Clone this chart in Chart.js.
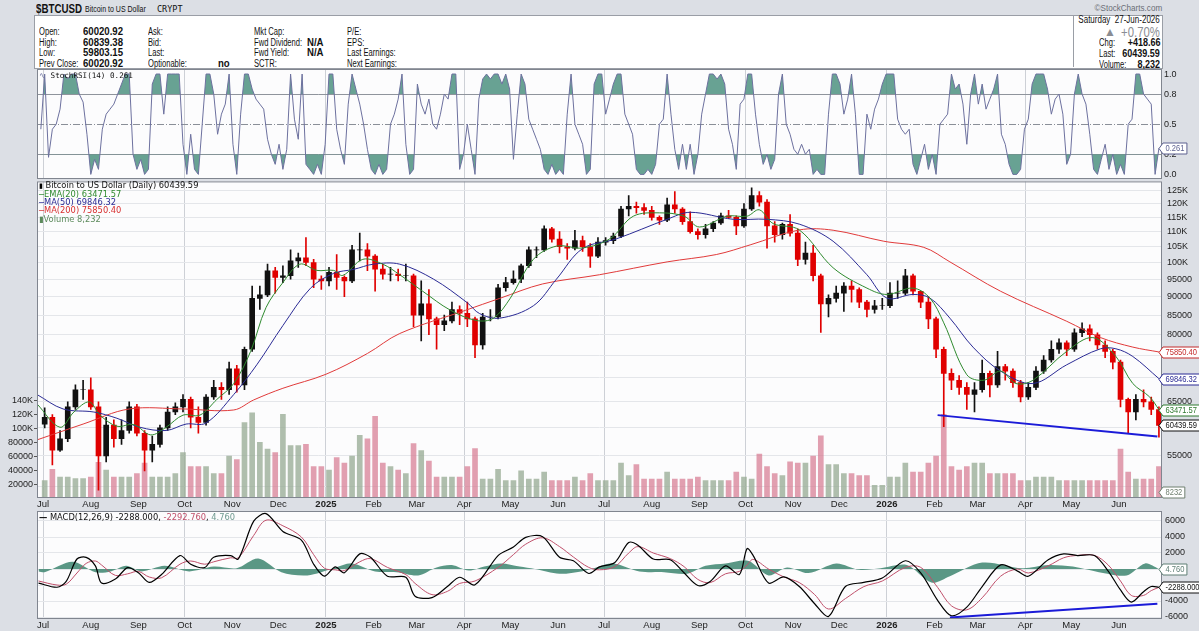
<!DOCTYPE html>
<html>
<head>
<meta charset="utf-8">
<script src="https://cdn.jsdelivr.net/npm/chart.js@4.4.1/dist/chart.umd.min.js"></script>
<style>
  body { margin:0; width:1199px; height:631px; background:#dcdfe5; position:relative; overflow:hidden;
         font-family:"Liberation Sans",Arial,sans-serif; color:#111; }
  canvas { position:absolute; left:0; }
  .t { position:absolute; white-space:nowrap; font-size:10px; line-height:11px; transform:scaleX(.76); transform-origin:0 50%; }
  .v { position:absolute; white-space:nowrap; font-size:10px; line-height:11px; font-weight:bold; transform:scaleX(.96); transform-origin:0 50%; }
  .r { transform-origin:100% 50%; }
  .lg { position:absolute; white-space:nowrap; font-family:"DejaVu Sans",sans-serif; font-size:8.3px; line-height:9px; z-index:2; }
  #info { position:absolute; left:34px; top:15px; width:1127px; height:52px; background:#fff; border:1px solid #9a9ea6; }
  #rbox { position:absolute; left:1073px; top:15px; width:88px; height:52px; border-left:1px solid #9a9ea6; }
</style>
</head>
<body>
<div id="info"></div>
<div id="rbox"></div>
<div class="t" style="left:36px;top:3px;font-size:12.5px;line-height:13px;font-weight:bold;transform:scaleX(.78)">$BTCUSD</div>
<div class="t" style="left:85px;top:4px;font-size:9px;transform:scaleX(.78)">Bitcoin to US Dollar</div>
<div class="t" style="left:157px;top:4px;font-family:'DejaVu Sans Mono',monospace;font-size:8.5px;transform:none">CRYPT</div>
<div class="t r" style="right:37px;top:3px;font-size:9px;color:#6a6e76;transform:scaleX(.9)">&#169;StockCharts.com</div>

<div class="t" style="left:39px;top:26px">Open:</div><div class="v" style="left:83px;top:26px">60020.92</div>
<div class="t" style="left:39px;top:36.5px">High:</div><div class="v" style="left:83px;top:36.5px">60839.38</div>
<div class="t" style="left:39px;top:47px">Low:</div><div class="v" style="left:83px;top:47px">59803.15</div>
<div class="t" style="left:39px;top:58px">Prev Close:</div><div class="v" style="left:83px;top:58px">60020.92</div>
<div class="t" style="left:148px;top:26px">Ask:</div>
<div class="t" style="left:148px;top:36.5px">Bid:</div>
<div class="t" style="left:148px;top:47px">Last:</div>
<div class="t" style="left:148px;top:58px">Optionable:</div><div class="v" style="left:218px;top:58px">no</div>
<div class="t" style="left:254px;top:26px">Mkt Cap:</div>
<div class="t" style="left:254px;top:36.5px">Fwd Dividend:</div><div class="v" style="left:307px;top:36.5px">N/A</div>
<div class="t" style="left:254px;top:47px">Fwd Yield:</div><div class="v" style="left:307px;top:47px">N/A</div>
<div class="t" style="left:254px;top:58px">SCTR:</div>
<div class="t" style="left:347px;top:26px">P/E:</div>
<div class="t" style="left:347px;top:36.5px">EPS:</div>
<div class="t" style="left:347px;top:47px">Last Earnings:</div>
<div class="t" style="left:347px;top:58px">Next Earnings:</div>

<div class="t r" style="right:39px;top:14px;transform:scaleX(.8)">Saturday&nbsp; 27-Jun-2026</div>
<div class="t" style="left:1104px;top:26px;font-size:12px;line-height:13px;color:#8a8d93;transform:none">&#9650;</div>
<div class="t r" style="right:39px;top:25px;font-size:14px;line-height:14px;color:#8a8d93;transform:scaleX(.81)">+0.70%</div>
<div class="t" style="left:1099px;top:37px">Chg:</div><div class="v r" style="right:39px;top:37px;transform:scaleX(.9)">+418.66</div>
<div class="t" style="left:1099px;top:48px">Last:</div><div class="v r" style="right:39px;top:48px;transform:scaleX(.9)">60439.59</div>
<div class="t" style="left:1099px;top:59px">Volume:</div><div class="v r" style="right:39px;top:59px;transform:scaleX(.9)">8,232</div>

<canvas id="stoch" width="1199" height="128" style="top:60px"></canvas>
<canvas id="main" width="1199" height="341" style="top:171px"></canvas>
<canvas id="macd" width="1199" height="129" style="top:502px"></canvas>

<div class="lg" style="left:39px;top:70.5px;font-family:'DejaVu Sans Mono',monospace;font-size:7.6px"><span style="color:#6d719f">&#8767;</span> StochRSI(14) 0.261</div>
<div class="lg" style="left:39px;top:181px"><span style="color:#000;font-size:7px">&#9646;</span> Bitcoin to US Dollar (Daily) 60439.59</div>
<div class="lg" style="left:39px;top:189.5px;color:#2f8a2f">&#9472;EMA(20) 63471.57</div>
<div class="lg" style="left:39px;top:198px;color:#2b2b95">&#9472;MA(50) 69846.32</div>
<div class="lg" style="left:39px;top:206px;color:#d83030">&#9472;MA(200) 75850.40</div>
<div class="lg" style="left:39px;top:214.5px;color:#5c8a5c">&#9646;Volume 8,232</div>
<div class="lg" style="left:39px;top:513px"><b>&#8212;</b> MACD(12,26,9) -2288.000, <span style="color:#c0506b">-2292.760</span>, <span style="color:#6f9a90">4.760</span></div>

<script>
const FONT = '"Liberation Sans",Arial,sans-serif';

// x axis: days counted from 1 Jan 2025, one candle every 5 days ending 27 Jun 2026
const startDay = -183;
const stepDays = 5;
const monthDays = [-184,-153,-122,-92,-61,-31,0,31,59,90,120,151,181,212,243,273,304,334,365,396,424,455,485,516];
const monthLabels = ['Jul','Aug','Sep','Oct','Nov','Dec','2025','Feb','Mar','Apr','May','Jun','Jul','Aug','Sep','Oct','Nov','Dec','2026','Feb','Mar','Apr','May','Jun'];
const quarterLabels = ['Jul','Oct','2025','Apr','2026'];

const firstOpen = 60700;
const closes = [
  62000,56000,58000,64000,67500,67500,64000,55000,60500,58000,
  59500,64000,59000,56000,57000,60000,63000,64000,65500,62000,
  61000,66000,68000,67500,72000,68500,76500,89500,90500,97500,
  95500,96000,100500,101500,100000,95000,94500,97000,95500,94500,
  104000,104000,102000,98000,96500,96500,96000,96000,85000,88000,
  84000,82500,83500,86500,85500,84000,77500,84500,84500,92500,
  94000,95000,99000,104000,104000,111000,107500,105000,104500,107000,
  105000,102000,106500,107000,108500,118000,119000,118500,117500,115000,
  114000,119500,118000,113500,110000,109000,111000,113000,115500,115000,
  112000,118000,123000,120500,112000,109000,112500,109500,101000,103000,
  96000,88000,89500,91000,93000,92000,88500,86500,87500,87500,
  91000,91000,96000,91500,88500,84000,76500,71000,69500,68000,
  66500,67500,71000,68500,72500,71500,69000,66000,68000,71500,
  74000,76500,78000,76500,80500,81500,80000,77500,76000,73500,
  65500,63000,65500,65000,63500,60439.59
];
const highs = [
  63800,62500,59500,65000,68500,69500,70000,65000,62000,61500,
  61500,65000,64500,59500,58500,60500,64000,64800,66500,66000,
  64000,66500,69500,69000,73500,72800,77000,93000,93000,99500,
  98500,99000,104000,103000,108000,101000,96000,98500,102500,96000,
  105500,109500,106000,102500,99500,98500,98000,99500,96500,94500,
  92000,84500,85000,88500,87500,88500,84500,85500,86500,93500,
  95500,97500,99500,105000,105000,112000,111500,110000,106000,110500,
  108500,106000,108000,108000,109500,119000,123000,120500,120000,119000,
  115500,122000,124500,118500,117000,111000,112500,113500,116500,117500,
  115500,120000,126000,124500,121500,113500,113000,116000,111000,106500,
  105500,96500,90500,93000,94000,94500,92500,89000,89000,89500,
  94000,94500,97900,96500,91500,90000,84500,77000,72000,70500,
  69000,69000,74000,71500,76000,73000,72000,69500,69000,72500,
  75000,78500,79000,78500,81500,83000,82500,80500,78500,76500,
  74000,65800,66500,67500,66000,64000
];
const lows = [
  60000,53500,55800,57500,63500,65500,63500,49500,54000,56500,
  57000,59000,58500,52500,54000,56500,59500,62500,63000,60000,
  59000,60500,65500,65500,66500,67000,67500,76000,86500,90000,
  91000,94000,95000,98500,99000,92500,92000,93000,92000,90000,
  94000,100500,97500,91500,95000,94500,94500,94500,82000,78500,
  80000,76500,81000,83000,82500,82000,74500,76500,83500,84000,
  91500,93500,94000,98500,101500,103500,106500,103000,101000,104000,
  103500,98500,101500,105500,106000,108000,115500,116500,116000,114000,
  112500,113500,116500,112500,109500,107500,107800,110000,112500,114500,
  109000,111500,117500,119000,104500,106500,107500,108500,99000,99500,
  94500,80600,84500,88500,86000,88500,87000,84500,85500,86500,
  87000,89500,90500,90500,87000,81500,74500,60200,67500,66500,
  63500,63000,67000,66000,68000,69500,68000,65000,65500,67500,
  71000,73500,75500,75000,76000,79500,78500,76500,74500,72000,
  64000,59000,61500,64000,62500,58300
];
const volumes = [
  25000,41000,30000,30000,28000,28000,30000,51000,40000,30000,
  30000,30000,35000,50000,30000,30000,30000,35000,65000,45000,
  45000,45000,35000,35000,60000,55000,108000,122000,80000,70000,
  65000,120000,75000,75000,77000,45000,45000,40000,58000,50000,
  60000,90000,85000,117000,50000,45000,40000,35000,78000,68000,
  53000,30000,30000,30000,30000,45000,71000,27000,27000,41000,
  25000,25000,39000,27000,27000,37000,25000,25000,25000,30000,
  25000,35000,25000,25000,25000,50000,32000,48000,27000,27000,
  27000,37000,27000,27000,27000,30000,25000,25000,25000,25000,
  37000,30000,27000,63000,45000,35000,32000,52000,50000,50000,
  60000,89000,48000,48000,35000,35000,32000,32000,18000,18000,
  30000,30000,50000,37000,37000,50000,60000,120000,45000,40000,
  45000,50000,50000,35000,35000,35000,35000,25000,25000,30000,
  30000,30000,25000,25000,25000,25000,25000,25000,25000,25000,
  70000,37000,27000,27000,27000,45000
];

// StochRSI read every 2.5 days
const stochStart = -185.5;
const stochStep = 2.5;
const stochRsi = [
  0.45,1.0,0.17,0.45,0.5,0.65,1.0,0.95,1.0,1.0,
  0.8,0.72,0.4,0.0,0.15,0.05,0.45,0.6,0.65,0.7,
  0.8,0.9,1.0,1.0,0.2,0.05,0.15,0.0,0.05,0.9,
  1.0,1.0,0.6,1.0,1.0,1.0,1.0,0.3,0.0,0.4,
  0.05,0.0,0.5,1.0,1.0,0.8,0.4,0.6,0.7,1.0,
  0.3,0.0,0.6,1.0,1.0,0.85,0.75,0.7,0.65,0.35,
  0.2,0.1,0.3,0.05,0.25,1.0,0.55,0.35,1.0,0.1,
  0.05,0.0,0.1,0.0,0.3,1.0,1.0,0.45,0.25,0.1,
  0.7,1.0,0.85,0.7,0.5,0.25,0.05,0.0,0.1,0.0,
  0.05,0.5,0.6,0.75,1.0,0.3,0.0,0.05,0.9,0.7,
  0.6,0.75,0.5,0.45,0.6,0.8,0.75,1.0,1.0,0.05,
  0.2,0.5,0.25,0.0,0.75,0.95,1.0,0.95,1.0,1.0,
  0.9,1.0,0.85,0.15,0.6,1.0,0.9,0.55,0.45,0.35,
  0.25,0.05,0.0,0.1,0.0,0.05,0.0,0.6,1.0,0.5,
  0.4,0.3,0.0,0.05,0.9,1.0,1.0,0.6,0.75,0.9,
  1.0,1.0,0.6,0.5,0.4,0.05,0.0,0.0,0.05,0.0,
  0.1,0.5,0.55,1.0,0.6,0.25,0.05,0.3,0.05,0.3,
  0.0,0.2,0.6,0.8,1.0,1.0,0.95,1.0,0.9,0.45,
  0.3,0.05,0.7,0.75,1.0,1.0,0.6,0.3,0.1,0.2,
  0.05,0.15,0.8,1.0,0.5,0.4,0.25,0.2,0.3,0.2,
  0.25,0.0,0.05,0.0,0.0,0.6,1.0,1.0,0.9,0.6,
  0.75,1.0,0.6,0.0,0.0,0.6,0.45,0.65,0.75,0.9,
  1.0,1.0,1.0,0.55,0.45,0.4,0.45,0.1,0.0,0.15,
  0.3,0.05,0.2,0.0,0.5,0.55,0.6,1.0,0.85,0.9,
  0.7,0.3,0.8,1.0,0.7,0.9,0.65,0.75,0.85,1.0,
  0.4,0.3,0.1,0.0,0.0,0.05,0.45,0.55,0.9,1.0,
  1.0,1.0,0.85,0.6,0.75,0.8,0.6,0.1,0.2,0.8,
  1.0,0.8,0.7,0.4,0.05,0.0,0.15,0.3,0.05,0.2,
  0.0,0.1,0.0,0.5,0.55,1.0,1.0,0.8,0.75,0.7,
  0.0,0.261
];

const ema20Days = [-188,-173,-164,-154,-147,-136,-125,-114,-104,-93,-82,-71,-60,-49,-39,-28,-17,-6,5,11,24,37,48,63,81,98,109,120,135,150,167,185,200,217,233,243,261,274,282,291,308,330,352,365,382,393,402,417,428,439,449,460,482,499,514,525,536,542];
const ema20Vals = [64600,60100,63000,65000,62400,60300,60600,58700,60100,62400,62400,65500,68800,76000,87000,94000,99500,97600,97600,96100,101000,99500,96300,91500,86300,83600,84200,89600,101000,105200,104600,107700,115400,116600,115400,111600,115400,115400,117700,112800,110600,98400,92400,90600,92400,89600,83000,70700,69500,71500,68800,69500,76000,79300,74800,68800,66000,63471.57];
const ma50Days = [-188,-171,-151,-136,-121,-104,-91,-78,-60,-45,-28,-10,5,18,31,48,70,92,100,113,135,150,167,189,222,237,265,287,308,330,352,365,382,393,406,421,439,460,482,504,514,525,542];
const ma50Vals = [66500,63600,63000,61800,60100,59500,60700,60900,66500,72900,82300,92400,96700,97900,99500,99500,95000,88300,85400,84200,87500,95000,104400,107600,114300,116800,114300,114300,112600,106800,96300,89600,90600,89600,84200,77000,71500,68800,72900,76600,76600,74800,69846.32];
const ma200Days = [-188,-158,-128,-93,-60,-47,-28,0,27,48,91,113,141,178,222,254,276,308,330,363,389,406,439,482,504,525,542];
const ma200Vals = [57800,60700,63600,63600,63400,65400,67800,70800,75500,80300,86300,89500,93600,96300,100200,102500,105600,110600,110500,106800,104800,100200,91500,83400,79300,77000,75850.40];

const macdDays = [-187,-175,-169,-162,-156,-150,-146,-137,-129,-122,-115,-107,-95,-88,-79,-73,-62,-57,-47,-39,-28,-16,-8,-1,6,12,22,29,40,52,58,69,79,87,97,112,122,130,141,152,161,171,178,188,197,203,213,224,233,242,250,260,269,274,278,288,298,308,318,327,338,350,362,377,387,398,407,417,427,439,450,457,470,480,489,500,509,517,524,532,537,542];
const macdVals = [-1760,-2280,-1550,1250,1460,390,-1760,-1250,170,-470,-1680,-690,1680,600,170,1460,1680,1250,5980,6920,4690,3610,600,-900,260,-470,1890,1460,-900,-1030,-3400,-3570,-2190,-1030,-1980,1680,2750,3960,4040,1460,1030,-560,260,820,3310,2970,1250,1160,-470,-2060,-1550,390,-690,2540,1680,-1760,-990,-2190,-4340,-5930,-2190,-1680,-1120,1030,-470,-3910,-5850,-4770,-2190,520,-260,-900,1160,1890,1680,1680,-260,-2620,-4130,-2840,-2190,-2288];
const signalVals = [-1500,-2000,-1900,-500,700,1000,500,-800,-600,-300,-1000,-1100,600,1000,600,900,1400,1400,4200,6100,5400,4000,1800,100,-100,-200,900,1300,200,-700,-1800,-3200,-2800,-1800,-1500,200,1800,3100,3900,2800,1500,200,-100,300,2000,2800,2000,1300,300,-1300,-1700,-600,-300,500,1200,0,-1000,-1700,-3200,-5000,-3700,-2200,-1500,200,200,-2300,-4600,-5100,-3600,-900,0,-500,400,1400,1700,1700,500,-1500,-3300,-3300,-2700,-2292.76];
const histDays = [-187,-183,-165,-150,-140,-130,-120,-105,-89,-73,-58,-44,-29,-12,5,17,32,46,60,72,82,93,103,114,126,136,152,166,176,187,204,220,235,247,260,275,288,300,314,332,347,361,378,394,406,427,453,470,486,503,521,533,542];
const histVals = [-300,-400,900,-400,-300,400,-300,400,-300,300,100,1300,-400,-800,100,700,-300,-400,-800,200,500,-200,300,700,300,0,-600,-300,200,700,-300,-400,-600,400,700,1000,-800,200,-500,700,-100,100,500,-1700,-900,800,100,500,300,-400,-800,700,4.76];

// hand drawn trend lines
const priceTrendDays = [398, 541];
const priceTrendVals = [62400, 58400];
const macdTrendDays = [406, 541];
const macdTrendVals = [-6060, -4350];

const priceTicks = [50000,55000,60000,65000,70000,75000,80000,85000,90000,95000,100000,105000,110000,115000,120000,125000];
const priceHidden = [50000,60000,70000,75000];
const volTicks = [20000,40000,60000,80000,100000,120000,140000];
const stochTicks = [0,0.2,0.5,0.8,1.0];
const macdTicks = [-6000,-4000,-2000,0,2000,4000,6000];
const macdHidden = [0,-2000];

const TEAL = 'rgba(78,146,128,0.85)';
const pts = (xs, ys) => xs.map((x, i) => ({ x: x, y: ys[i] }));
const dayOf = i => startDay + stepDays * i;

const frame = {
  id: 'frame',
  beforeDraw(chart) {
    const a = chart.chartArea, c = chart.ctx;
    c.save(); c.fillStyle = '#fcfcfd'; c.fillRect(a.left, a.top, a.right - a.left, a.bottom - a.top); c.restore();
  },
  afterDraw(chart) {
    const a = chart.chartArea, c = chart.ctx;
    c.save(); c.strokeStyle = '#80858f'; c.lineWidth = 1;
    c.strokeRect(a.left + 0.5, a.top + 0.5, a.right - a.left - 1, a.bottom - a.top - 1); c.restore();
  }
};

const tags = {
  id: 'tags',
  afterDraw(chart, args, opts) {
    const c = chart.ctx, R = chart.chartArea.right;
    (opts.items || []).forEach(t => {
      const y = Math.round(chart.scales[t.axis].getPixelForValue(t.value)) + 0.5;
      c.save();
      c.font = '9px ' + FONT;
      const w = c.measureText(t.text).width * 0.84 + 4;
      c.beginPath();
      c.moveTo(R - 3, y); c.lineTo(R + 1, y - 5.5); c.lineTo(R + 2 + w, y - 5.5);
      c.lineTo(R + 2 + w, y + 5.5); c.lineTo(R + 1, y + 5.5); c.closePath();
      c.fillStyle = '#fff'; c.fill();
      c.strokeStyle = t.color; c.lineWidth = 1; c.stroke();
      c.fillStyle = t.color; c.textBaseline = 'middle';
      c.translate(R + 3.5, y + 0.5); c.scale(0.84, 1);
      c.fillText(t.text, 0, 0);
      c.restore();
    });
  }
};

const midLine = {
  id: 'midLine',
  beforeDatasetsDraw(chart) {
    const a = chart.chartArea, c = chart.ctx, y = Math.round(chart.scales.y.getPixelForValue(0.5)) + 0.5;
    c.save(); c.strokeStyle = '#8a8f98'; c.setLineDash([7, 2, 1, 2]);
    c.beginPath(); c.moveTo(a.left, y); c.lineTo(a.right, y); c.stroke(); c.restore();
  }
};

function xScale(show, h) {
  return {
    type: 'linear', min: -188, max: 544, offset: false,
    afterBuildTicks: s => { s.ticks = monthDays.map(v => ({ value: v })); },
    afterFit: s => { s.height = h; },
    ticks: {
      display: show, autoSkip: false, maxRotation: 0, padding: 1, color: '#222',
      font: ctx => ({ family: FONT, size: 9.5, weight: /^\d{4}$/.test(monthLabels[ctx.index]) ? 'bold' : 'normal' }),
      callback: (v, i) => monthLabels[i]
    },
    grid: {
      offset: false, drawTicks: false,
      color: ctx => quarterLabels.includes(monthLabels[ctx.index]) ? '#cdd0d6' : 'rgba(0,0,0,0)'
    },
    border: { display: false }
  };
}

function rightScale(extra) {
  return Object.assign({
    position: 'right',
    afterFit: s => { s.width = 37; },
    border: { display: false },
    grid: { drawTicks: false, color: '#e4e6ea' },
    ticks: { padding: 4, color: '#222', font: { family: FONT, size: 9 } }
  }, extra);
}

Chart.defaults.animation = false;
Chart.defaults.plugins.legend.display = false;
Chart.defaults.plugins.tooltip.enabled = false;

// ---- StochRSI panel (plot area 69..179)
const stochData = stochRsi.map((v, i) => ({ x: stochStart + stochStep * i, y: v }));
new Chart(document.getElementById('stoch'), {
  type: 'line',
  data: { datasets: [
    { data: stochData, borderColor: '#6d719f', borderWidth: 1, pointRadius: 0,
      fill: { target: { value: 0.8 }, above: TEAL, below: 'rgba(0,0,0,0)' } },
    { data: stochData, borderWidth: 0, pointRadius: 0,
      fill: { target: { value: 0.2 }, above: 'rgba(0,0,0,0)', below: TEAL } }
  ] },
  options: {
    responsive: false,
    layout: { padding: { left: 37, top: 9, bottom: 9 } },
    scales: {
      x: xScale(false, 0),
      y: rightScale({
        min: -0.046, max: 1.05,
        afterBuildTicks: s => { s.ticks = stochTicks.map(v => ({ value: v })); },
        grid: { drawTicks: false, color: ctx => (ctx.tick && (ctx.tick.value === 0.8 || ctx.tick.value === 0.2)) ? '#8f949c' : 'rgba(0,0,0,0)' },
        ticks: { padding: 2, color: '#222', font: { family: FONT, size: 9 }, callback: v => v.toFixed(1) }
      })
    },
    plugins: { tags: { items: [{ axis: 'y', value: 0.261, text: '0.261', color: '#5d6190' }] } }
  },
  plugins: [frame, midLine, tags]
});

// ---- price panel (plot area 180..498)
const candles = closes.map((c, i) => ({ x: dayOf(i), y: [i ? closes[i - 1] : firstOpen, c] }));
const upDown = candles.map(d => d.y[1] >= d.y[0]);
new Chart(document.getElementById('main'), {
  type: 'bar',
  data: { datasets: [
    { type: 'line', data: pts(priceTrendDays, priceTrendVals), borderColor: '#1b1bd8', borderWidth: 2, pointRadius: 0, yAxisID: 'y', order: 0 },
    { type: 'line', data: pts(ema20Days, ema20Vals), borderColor: '#2f8a2f', borderWidth: 1, pointRadius: 0, tension: 0.35, yAxisID: 'y', order: 1 },
    { type: 'line', data: pts(ma50Days, ma50Vals), borderColor: '#2b2b95', borderWidth: 1, pointRadius: 0, tension: 0.35, yAxisID: 'y', order: 2 },
    { type: 'line', data: pts(ma200Days, ma200Vals), borderColor: '#e03a3a', borderWidth: 1, pointRadius: 0, tension: 0.35, yAxisID: 'y', order: 3 },
    { type: 'bar', data: candles, backgroundColor: upDown.map(u => u ? '#111' : '#e00000'),
      barThickness: 5, grouped: false, borderWidth: 0, yAxisID: 'y', order: 5 },
    { type: 'bar', data: closes.map((c, i) => ({ x: dayOf(i), y: [lows[i], highs[i]] })),
      backgroundColor: upDown.map(u => u ? '#111' : '#e00000'),
      barThickness: 1, grouped: false, borderWidth: 0, yAxisID: 'y', order: 6 },
    { type: 'bar', data: volumes.map((v, i) => ({ x: dayOf(i), y: v })),
      backgroundColor: upDown.map(u => u ? 'rgba(150,170,145,0.75)' : 'rgba(214,120,142,0.7)'),
      barThickness: 5, grouped: false, borderWidth: 0, yAxisID: 'yv', order: 10 }
  ] },
  options: {
    responsive: false,
    layout: { padding: { top: 9 } },
    scales: {
      x: xScale(true, 14),
      y: rightScale({
        type: 'logarithmic', min: 48300, max: 128500,
        afterBuildTicks: s => { s.ticks = priceTicks.map(v => ({ value: v })); },
        ticks: { padding: 5, color: '#222', font: { family: FONT, size: 9 },
          callback: v => priceHidden.includes(v) ? '' : (v >= 100000 ? (v / 1000) + 'K' : String(v)) }
      }),
      yv: {
        position: 'left', min: 0, max: 454000,
        afterFit: s => { s.width = 37; },
        afterBuildTicks: s => { s.ticks = volTicks.map(v => ({ value: v })); },
        border: { display: false },
        grid: { drawOnChartArea: false, drawTicks: true, tickLength: 3, color: '#555' },
        ticks: { padding: 1, color: '#222', font: { family: FONT, size: 9 },
          callback: v => v >= 100000 ? (v / 1000) + 'K' : String(v) }
      }
    },
    plugins: { tags: { items: [
      { axis: 'y', value: 75850.40, text: '75850.40', color: '#c42a2a' },
      { axis: 'y', value: 69846.32, text: '69846.32', color: '#2b2b95' },
      { axis: 'y', value: 63471.57, text: '63471.57', color: '#2f7a2f' },
      { axis: 'y', value: 60439.59, text: '60439.59', color: '#111' },
      { axis: 'yv', value: 8232, text: '8232', color: '#6f7f6f' }
    ] } }
  },
  plugins: [frame, tags]
});

// ---- MACD panel (plot area 511..619)
new Chart(document.getElementById('macd'), {
  type: 'line',
  data: { datasets: [
    { data: pts(macdTrendDays, macdTrendVals), borderColor: '#1b1bd8', borderWidth: 2, pointRadius: 0, order: 0 },
    { data: pts(macdDays, macdVals), borderColor: '#000', borderWidth: 1.2, pointRadius: 0, tension: 0.3, order: 1 },
    { data: pts(macdDays, signalVals), borderColor: '#c0506b', borderWidth: 1, pointRadius: 0, tension: 0.35, order: 2 },
    { data: pts(histDays, histVals), borderWidth: 0, pointRadius: 0, tension: 0.3, order: 3,
      fill: { target: 'origin', above: 'rgba(72,140,120,0.9)', below: 'rgba(72,140,120,0.9)' } }
  ] },
  options: {
    responsive: false,
    layout: { padding: { left: 37, top: 9 } },
    scales: {
      x: xScale(true, 12),
      y: rightScale({
        min: -6250, max: 7250,
        afterBuildTicks: s => { s.ticks = macdTicks.map(v => ({ value: v })); },
        ticks: { padding: 3, color: '#222', font: { family: FONT, size: 9 },
          callback: v => macdHidden.includes(v) ? '' : String(v) }
      })
    },
    plugins: { tags: { items: [
      { axis: 'y', value: 4.76, text: '4.760', color: '#5f7f75' },
      { axis: 'y', value: -2288, text: '-2288.000', color: '#111' }
    ] } }
  },
  plugins: [frame, tags]
});
</script>
</body>
</html>
